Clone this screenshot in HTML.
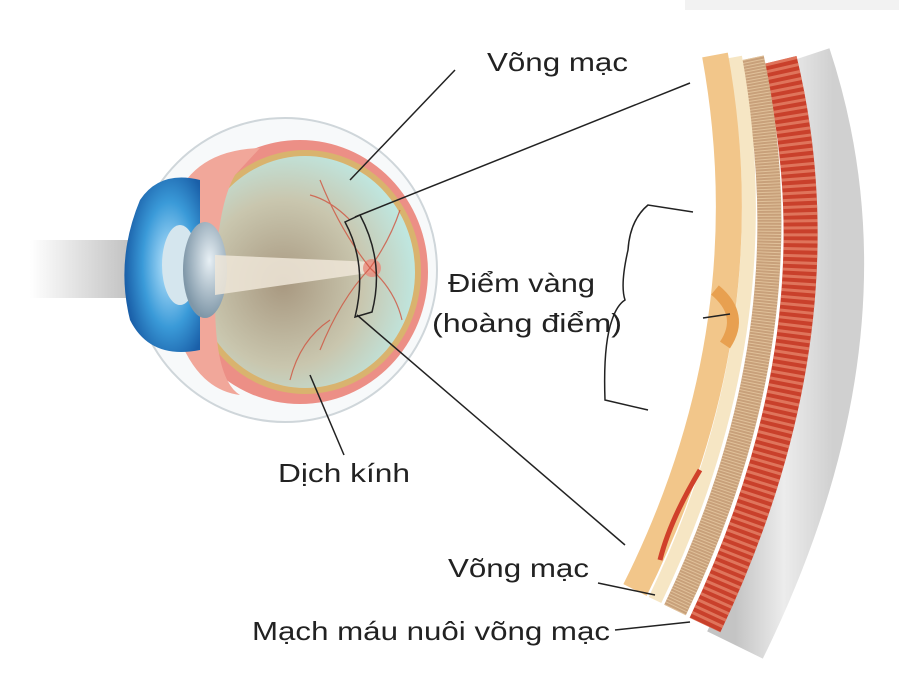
<!DOCTYPE html>
<html><head><meta charset="utf-8"><style>
body{margin:0;background:#fff;}
svg{display:block}
text{font-family:"Liberation Sans",sans-serif;fill:#222;font-size:26px}
</style></head><body>
<svg width="899" height="675" viewBox="0 0 899 675" xmlns="http://www.w3.org/2000/svg">
<defs>
<linearGradient id="beam" x1="0" x2="1"><stop offset="0" stop-color="#fff"/><stop offset="1" stop-color="#bbb"/></linearGradient>
<radialGradient id="vit" cx="0.4" cy="0.55" r="0.6"><stop offset="0" stop-color="#a89880"/><stop offset="0.6" stop-color="#c9c6ae"/><stop offset="1" stop-color="#bfe6df"/></radialGradient>
<linearGradient id="grey" x1="0" x2="1"><stop offset="0" stop-color="#c4c4c4"/><stop offset="0.5" stop-color="#ececec"/><stop offset="1" stop-color="#d0d0d0"/></linearGradient>
<radialGradient id="blue" cx="0.6" cy="0.5" r="0.6"><stop offset="0" stop-color="#bfe8ff"/><stop offset="0.6" stop-color="#3a9ad8"/><stop offset="1" stop-color="#1a5fa8"/></radialGradient>
<radialGradient id="lens" cx="0.6" cy="0.4" r="0.6"><stop offset="0" stop-color="#e8f0f5"/><stop offset="1" stop-color="#7f97a8"/></radialGradient>
</defs>
<rect x="685" y="0" width="214" height="10" fill="#f2f2f2"/>
<rect x="30" y="240" width="110" height="58" fill="url(#beam)"/>
<circle cx="285" cy="270" r="152" fill="#f7f9fa" stroke="#cfd6da" stroke-width="2"/>
<ellipse cx="300" cy="272" rx="128" ry="132" fill="#ec8f86"/>
<ellipse cx="305" cy="272" rx="116" ry="122" fill="#d9b36e"/>
<ellipse cx="305" cy="272" rx="110" ry="116" fill="url(#vit)"/>
<path d="M175 200 Q195 150 260 148 L235 175 Q215 210 215 300 Q215 380 240 395 Q200 390 180 340 Z" fill="#f1a79a"/>
<path d="M140 200 Q160 170 200 180 L200 350 Q150 360 130 320 Q115 260 140 200 Z" fill="url(#blue)"/>
<ellipse cx="180" cy="265" rx="18" ry="40" fill="#d5e6ee"/>
<ellipse cx="205" cy="270" rx="22" ry="48" fill="url(#lens)"/>
<polygon points="215,255 375,262 375,272 215,295" fill="#efe6d8" opacity="0.85"/>
<circle cx="372" cy="268" r="9" fill="#e98a7a" opacity="0.8"/>
<g stroke="#d0533f" stroke-width="1.2" fill="none" opacity="0.8">
<path d="M370 268 Q390 240 400 210 M370 268 Q395 290 402 320 M370 268 Q340 300 320 350 M370 268 Q340 230 320 180 M330 320 Q300 340 290 380 M350 220 Q330 200 310 195"/>
</g>
<path d="M345 222 L360 215 Q385 262 372 312 L355 317 Q368 265 345 222 Z" fill="none" stroke="#222" stroke-width="1.5"/>
<path d="M800 58 Q890 330 735 645" stroke="url(#grey)" stroke-width="62" fill="none"/>
<path d="M780 60 Q845 330 705 625" stroke="#c9402b" stroke-width="34" fill="none"/>
<path d="M780 60 Q845 330 705 625" stroke="#e88a70" stroke-width="34" fill="none" stroke-dasharray="3 4" opacity="0.7"/>
<path d="M752 58 Q810 330 675 610" stroke="#c8a07a" stroke-width="24" fill="none"/>
<path d="M752 58 Q810 330 675 610" stroke="#e6c9a3" stroke-width="24" fill="none" stroke-dasharray="1 2" opacity="0.8"/>
<path d="M735 57 Q785 330 655 600" stroke="#f6e6c4" stroke-width="14" fill="none"/>
<path d="M715 55 Q765 330 635 590" stroke="#f2c68a" stroke-width="26" fill="none"/>
<path d="M715 290 Q745 315 725 345" stroke="#e8a050" stroke-width="12" fill="none"/>
<path d="M660 560 Q670 520 700 470" stroke="#d0402a" stroke-width="5" fill="none"/>
<g stroke="#222" stroke-width="1.5" fill="none">
<line x1="455" y1="70" x2="350" y2="180"/>
<line x1="690" y1="83" x2="355" y2="217"/>
<line x1="357" y1="315" x2="625" y2="545"/>
<path d="M693 212 L648 205 Q630 220 628 250 Q620 285 625 300 Q617 305 612 320 Q603 345 605 400 L648 410"/>
<line x1="703" y1="318" x2="730" y2="314"/>
<line x1="344" y1="455" x2="310" y2="375"/>
<line x1="598" y1="583" x2="655" y2="595"/>
<line x1="615" y1="630" x2="690" y2="622"/>
</g>
<text x="487" y="71" textLength="141" lengthAdjust="spacingAndGlyphs">Võng mạc</text>
<text x="448" y="292" textLength="147" lengthAdjust="spacingAndGlyphs">Điểm vàng</text>
<text x="432" y="332" textLength="190" lengthAdjust="spacingAndGlyphs">(hoàng điểm)</text>
<text x="278" y="482" textLength="132" lengthAdjust="spacingAndGlyphs">Dịch kính</text>
<text x="448" y="577" textLength="141" lengthAdjust="spacingAndGlyphs">Võng mạc</text>
<text x="252" y="640" textLength="358" lengthAdjust="spacingAndGlyphs">Mạch máu nuôi võng mạc</text>
</svg>
</body></html>
